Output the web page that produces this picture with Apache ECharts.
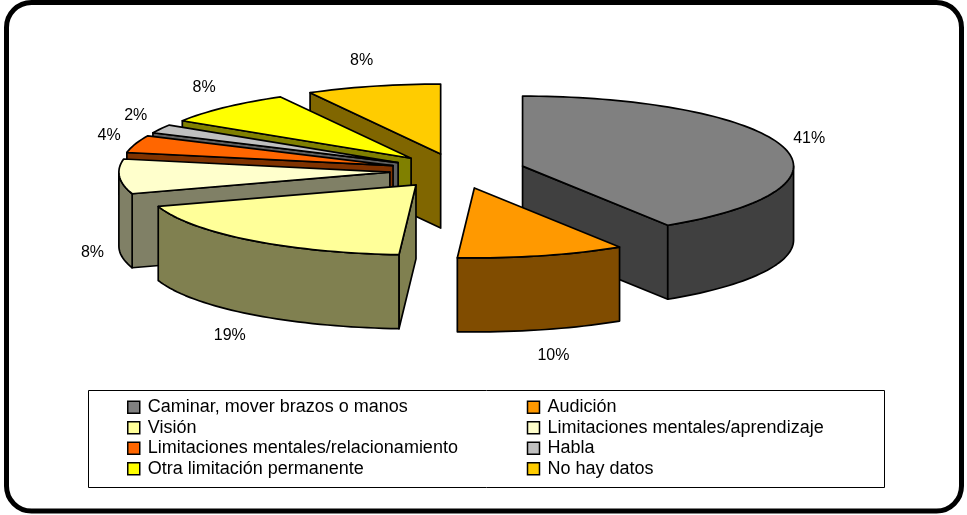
<!DOCTYPE html>
<html>
<head>
<meta charset="utf-8">
<style>
html,body{margin:0;padding:0;background:#fff;}
#chart{width:967px;height:515px;}
</style>
<script src="https://cdn.jsdelivr.net/npm/echarts@6/dist/echarts.min.js"></script>
</head>
<body>
<div id="chart"></div>
<script>
const categories = ['Caminar, mover brazos o manos','Audición','Visión','Limitaciones mentales/aprendizaje','Limitaciones mentales/relacionamiento','Habla','Otra limitación permanente','No hay datos'];
const values = [41,10,19,8,4,2,8,8];
const topColors = ['#808080','#FF9900','#FFFF99','#FFFFCC','#FF6600','#C0C0C0','#FFFF00','#FFCC00'];
const wallColors = ['#404040','#804C00','#808050','#808066','#803300','#606060','#808000','#806600'];

// geometry of the tilted pie
const cx = 457.5, cy = 171;
const rx = 271, ry = 70;
const depth = 74;
const explode = 0.25;
const font = '"Liberation Sans", Arial, sans-serif';

const total = values.reduce((a,b)=>a+b,0);
let acc = 0;
const slices = values.map((v,i)=>{
	const start = acc/total*Math.PI*2;
	acc += v;
	const end = acc/total*Math.PI*2;
	return {i,start,end,mid:(start+end)/2};
});

function pt(ox,oy,a,dy){
	return [ox+rx*Math.sin(a), oy-ry*Math.cos(a)+(dy||0)];
}
function arc(ox,oy,a0,a1,dy){
	let arr=[];
	const n=Math.max(2,Math.ceil((a1-a0)/0.03));
	for(let k=0;k<=n;k++){
		arr.push(pt(ox,oy,a0+(a1-a0)*k/n,dy));
	}
	return arr;
}
function makeRender(s){
	return function(){
		const ox = cx+explode*rx*Math.sin(s.mid);
		const oy = cy-explode*ry*Math.cos(s.mid);
		const line = {stroke:'#000',lineWidth:1.7,lineJoin:'round'};
		const wall = wallColors[s.i];
		const kids = [];
		const face = a=>{
			const p=pt(ox,oy,a);
			kids.push({type:'polygon',shape:{points:[[ox,oy],p,[p[0],p[1]+depth],[ox,oy+depth]]},style:{fill:wall,...line}});
		};
		// a cut face only shows when it turns towards the viewer
		if(Math.sin(s.start)<-1e-6) face(s.start);
		if(Math.sin(s.end)>1e-6) face(s.end);
		// outer wall, only the part facing the viewer
		const a0=Math.max(s.start,Math.PI/2), a1=Math.min(s.end,Math.PI*1.5);
		if(a1>a0){
			const upper=arc(ox,oy,a0,a1), lower=arc(ox,oy,a0,a1,depth).reverse();
			kids.push({type:'polygon',shape:{points:upper.concat(lower)},style:{fill:wall,...line}});
		}
		// top surface
		kids.push({type:'polygon',shape:{points:[[ox,oy]].concat(arc(ox,oy,s.start,s.end))},style:{fill:topColors[s.i],...line}});
		// percentage label, pushed below the wall for the front slices
		const lp=pt(ox,oy,s.mid,Math.cos(s.mid)<-0.05?depth:0);
		const sn=Math.sin(s.mid);
		kids.push({type:'text',z2:50,style:{
			text:values[s.i]+'%',
			x:lp[0]+27*Math.sign(sn)*Math.pow(Math.abs(sn),0.6),
			y:lp[1]-27*Math.cos(s.mid),
			align:'center',verticalAlign:'middle',
			font:'16px '+font,fill:'#000'
		}});
		return {type:'group',children:kids};
	};
}

// back slices first so the front ones paint over them
const order = slices.slice().sort((a,b)=>Math.cos(b.mid)-Math.cos(a.mid));

const myChart = echarts.init(document.getElementById('chart'),null,{renderer:'canvas'});
myChart.setOption({
	animation:false,
	backgroundColor:'#fff',
	graphic:[{
		type:'rect',z:0,
		shape:{x:6.5,y:2.5,width:955,height:508.5,r:25},
		style:{fill:'#fff',stroke:'#000',lineWidth:5}
	},{
		// legend frame, narrower than the legend's own wrapped box
		type:'rect',z:0,
		shape:{x:88.5,y:390.5,width:796,height:97},
		style:{fill:'#fff',stroke:'#000',lineWidth:1}
	}],
	legend:{
		left:88,top:390,
		width:840,
		padding:[7,0,8,39],
		icon:'rect',
		itemWidth:12,itemHeight:12,itemGap:0,
		selectedMode:false,
		data:categories,
		itemStyle:{borderColor:'#000',borderWidth:1.5},
		textStyle:{fontFamily:'"Liberation Sans", Arial, sans-serif',fontSize:18,color:'#000',width:379,padding:[0,0,0,3],lineHeight:20.5,overflow:'none'}
	},
	series:order.map((s,idx)=>({
		type:'custom',
		name:categories[s.i],
		coordinateSystem:'none',
		z:2+idx,
		silent:true,
		itemStyle:{color:topColors[s.i]},
		data:[values[s.i]],
		renderItem:makeRender(s)
	}))
});
</script>
</body>
</html>
